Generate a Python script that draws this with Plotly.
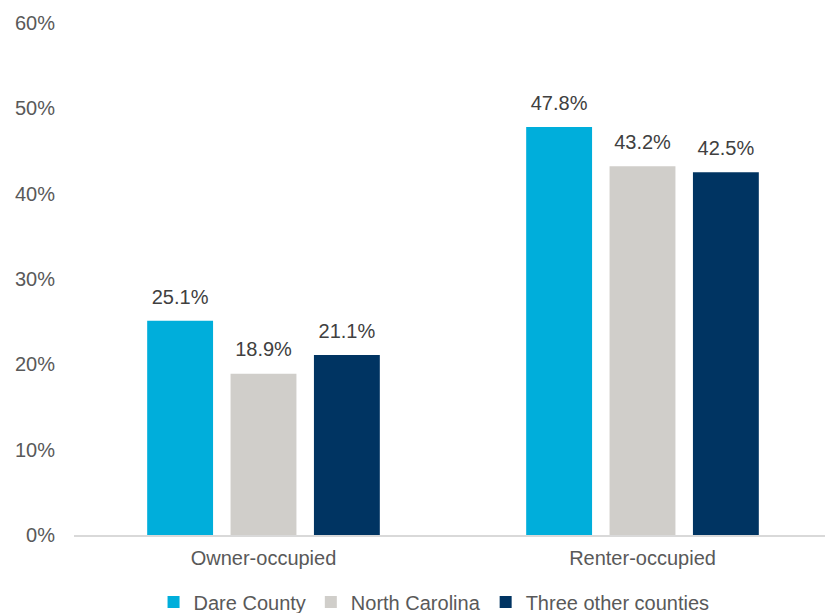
import plotly.graph_objects as go

# Housing cost burden by tenure
categories = ['Owner-occupied', 'Renter-occupied']
dare_county = [25.1, 47.8]
north_carolina = [18.9, 43.2]
three_other = [21.1, 42.5]

series = [
    ('Dare County', dare_county, '#00AEDB'),
    ('North Carolina', north_carolina, '#D0CECA'),
    ('Three other counties', three_other, '#003462'),
]

fig = go.Figure()
for i, (name, vals, color) in enumerate(series):
    fig.add_trace(go.Bar(
        name=name, x=categories, y=vals,
        marker=dict(color=color, line=dict(width=0)),
        offsetgroup=str(i),
    ))
# value labels sit above the bars (invisible marker pushes text up a bit)
for i, (name, vals, color) in enumerate(series):
    fig.add_trace(go.Scatter(
        x=categories, y=vals, mode='markers+text',
        text=[f"{v:.1f}%" for v in vals],
        textposition='top center',
        textfont=dict(size=20, color='#404040'),
        marker=dict(size=18, opacity=0),
        offsetgroup=str(i), showlegend=False, hoverinfo='skip',
        cliponaxis=False,
    ))

fig.update_layout(
    barmode='group',
    scattermode='group',
    bargap=0.34,
    bargroupgap=0.21,
    scattergap=0.34,
    width=825, height=605,   # page body adds an 8px margin
    margin=dict(l=66, r=1, t=15, b=78, autoexpand=False),
    plot_bgcolor='white', paper_bgcolor='white',
    font=dict(family='Liberation Sans, Arial, sans-serif', size=20, color='#595959'),
    showlegend=True,
    legend=dict(orientation='h', x=0.475, xanchor='center', y=-0.131, yanchor='middle',
                font=dict(size=20, color='#595959'), itemwidth=30,
                traceorder='normal'),
)
fig.update_yaxes(range=[0, 60], dtick=10, ticksuffix='%', showgrid=False,
                 zeroline=False, showline=False, ticks='', ticklabelstandoff=18,
                 automargin=False)
fig.update_xaxes(showline=True, linecolor='#D9D9D9', linewidth=2, ticks='',
                 showgrid=False, ticklabelstandoff=4, automargin=False)

fig.write_html("out.html")
